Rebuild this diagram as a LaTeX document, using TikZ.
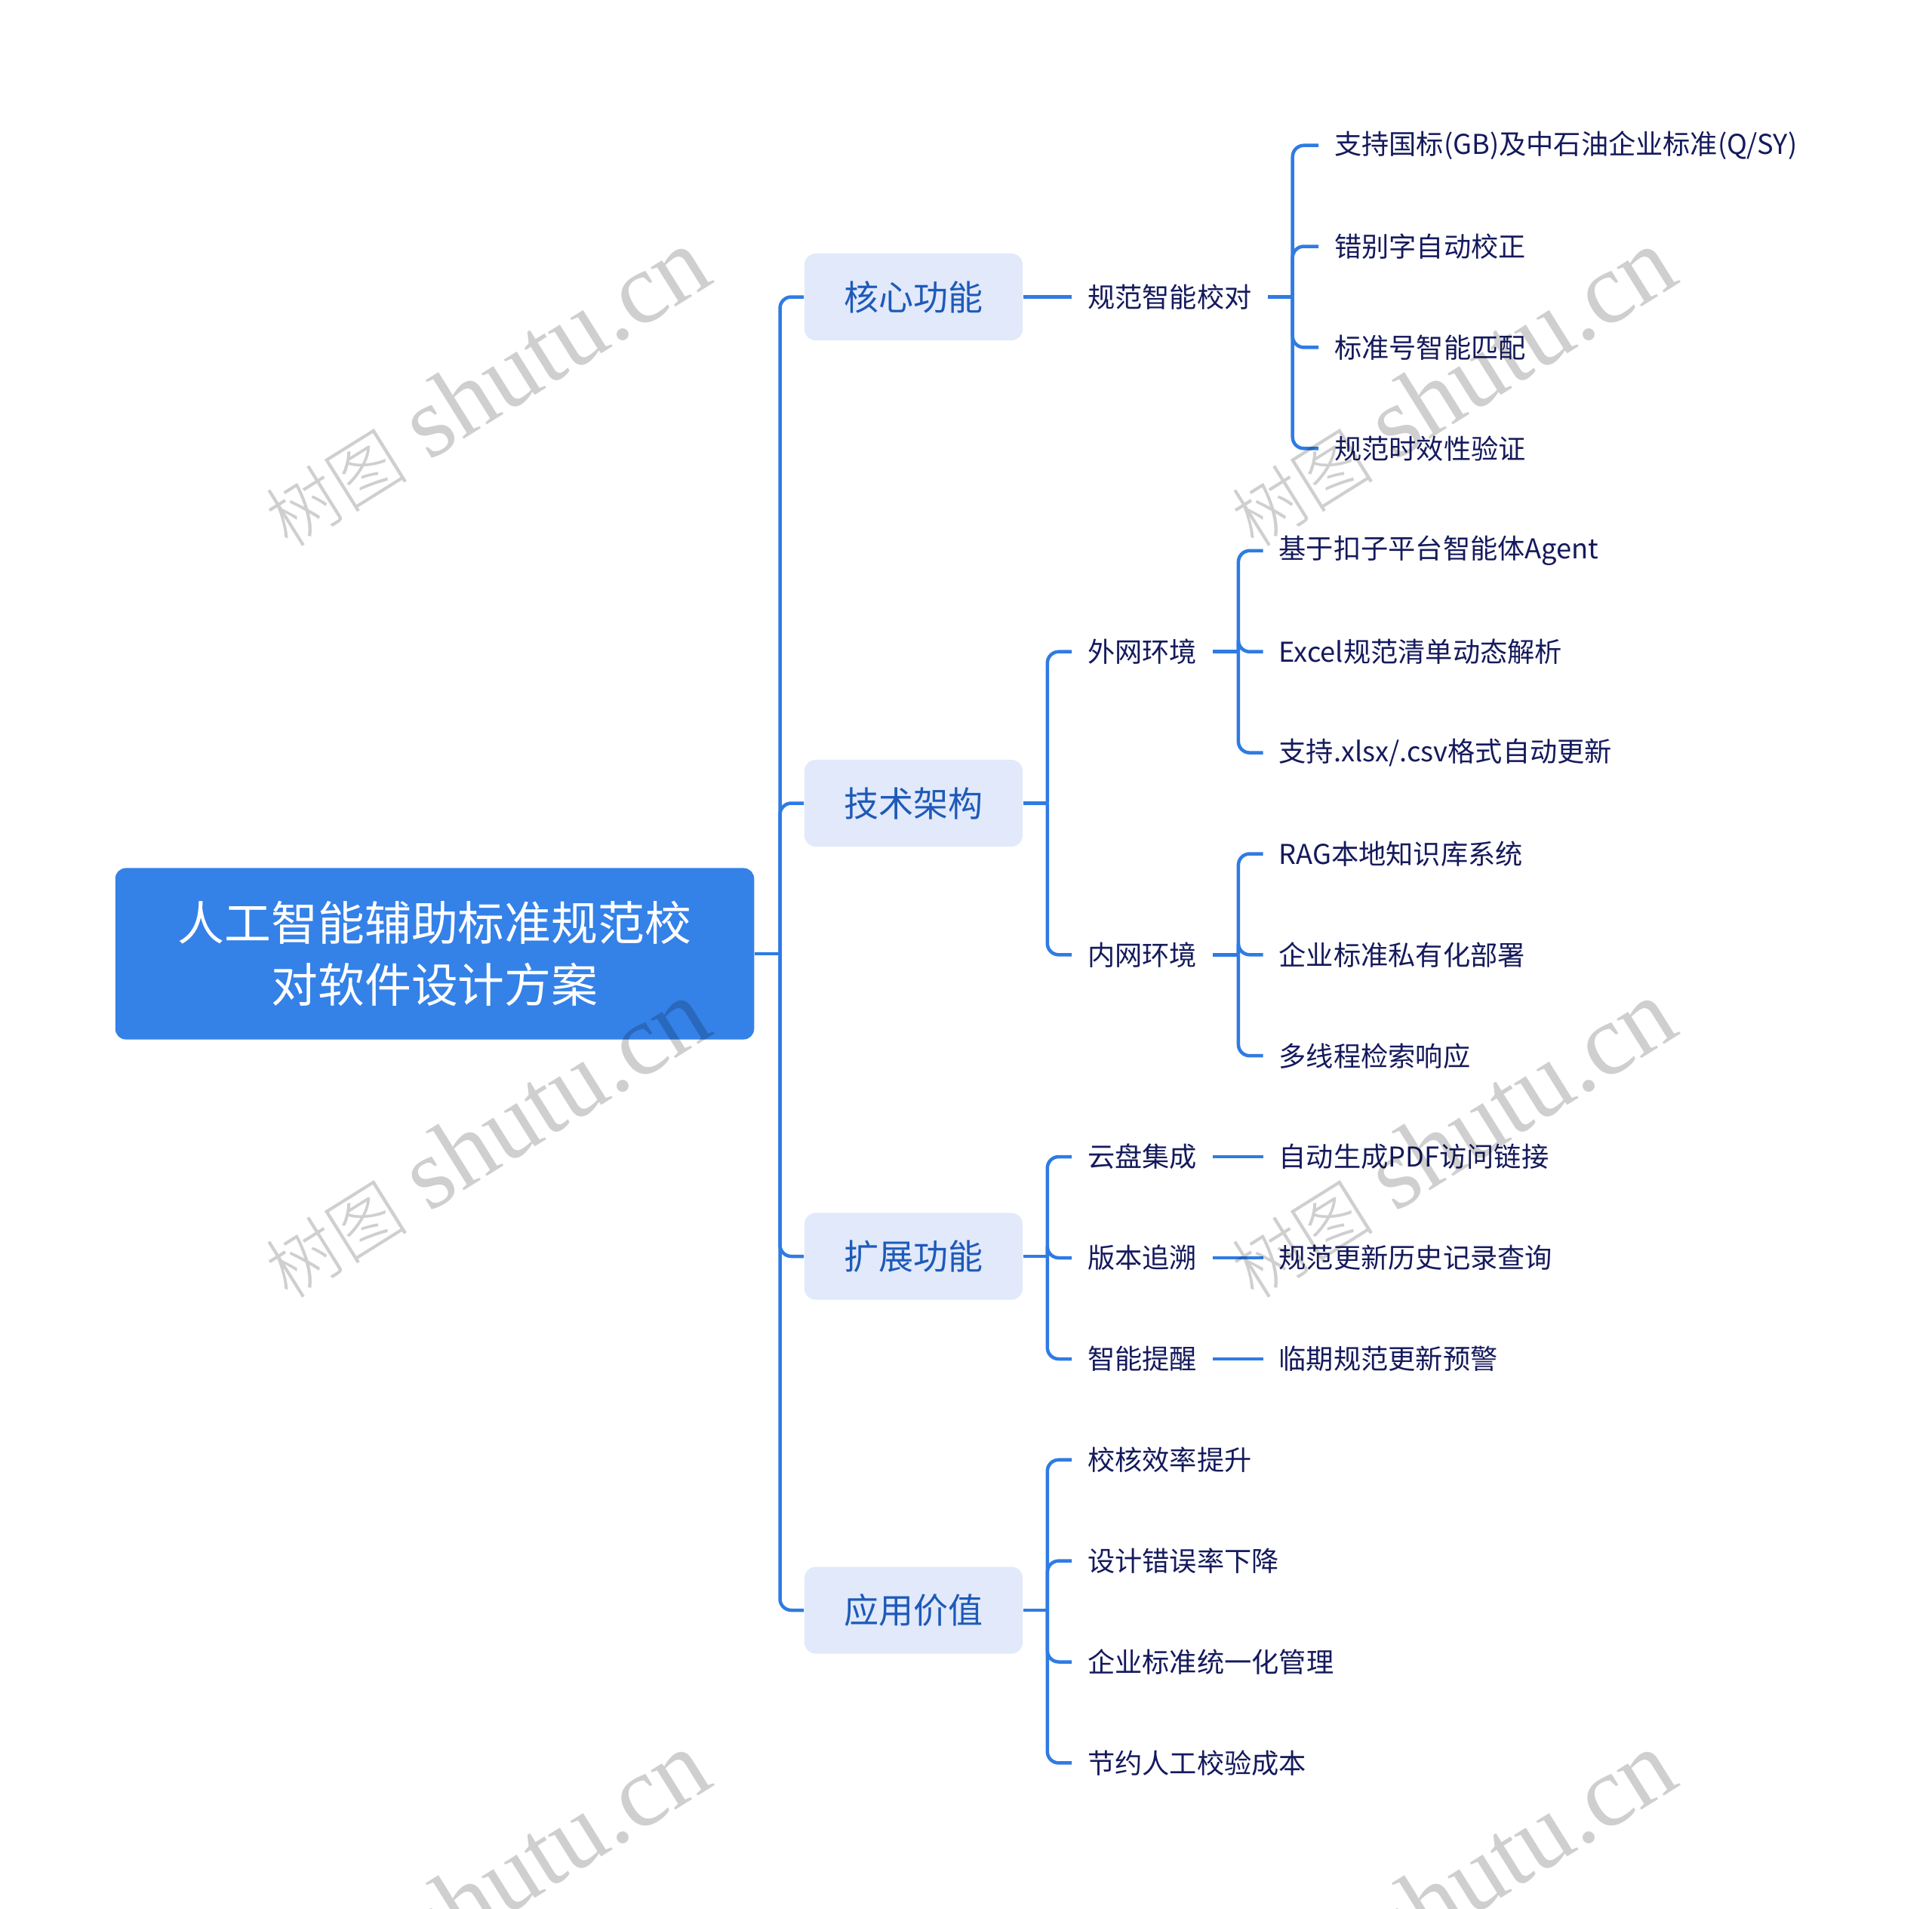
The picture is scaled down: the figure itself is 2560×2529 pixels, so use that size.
\documentclass[tikz,border=0pt]{standalone}
\usepackage{fontspec}
\setmainfont{Noto Sans CJK SC}
\newfontfamily\wmfont{Liberation Serif}
\newfontfamily\wmcjk{Noto Sans CJK SC Light}
\definecolor{rootblue}{HTML}{3481E8}
\definecolor{lineblue}{HTML}{2F7BE3}
\definecolor{boxfill}{HTML}{E1E9FB}
\definecolor{catblue}{HTML}{1E5AB8}
\definecolor{leaftext}{HTML}{151A5C}
\newcommand{\wmtext}{{\wmcjk\fontsize{27}{32}\selectfont 树图}\hspace{0.3cm}{\wmfont\fontsize{38}{44}\selectfont shutu.cn}}
\tikzset{
  rootbox/.style={fill=rootblue, rounded corners=0.14cm, minimum width=8.46cm, minimum height=2.27cm,
    text=white, font=\fontsize{17.6}{23.3}\selectfont, align=center, inner sep=0pt},
  catbox/.style={fill=boxfill, rounded corners=0.15cm, minimum width=2.89cm, minimum height=1.15cm,
    text=catblue, font=\fontsize{13.1}{16}\selectfont, inner sep=0pt},
  leaf/.style={anchor=west, text=leaftext, font=\fontsize{10.3}{13}\selectfont, inner xsep=0.205cm, inner ysep=0pt},
  conn/.style={draw=lineblue, line width=0.045cm, rounded corners=0.15cm},
  wm/.style={text=black, text opacity=0.19, rotate=32, inner sep=0pt}
}
\begin{document}
\begin{tikzpicture}[x=0.01cm,y=-0.01cm]
\useasboundingbox (0,0) rectangle (2560,2529);

% root
\node[rootbox] (root) at (576,1264) {人工智能辅助标准规范校\\对软件设计方案};
\coordinate (t) at (1033.5,1264);

% level 1
\node[catbox] (k1) at (1210.5,393.5) {核心功能};
\node[catbox] (k2) at (1210.5,1064.5) {技术架构};
\node[catbox] (k3) at (1210.5,1665) {扩展功能};
\node[catbox] (k4) at (1210.5,2134) {应用价值};

\draw[conn] (root.east) -- (t);
\draw[conn] (t) |- (k1.west);
\draw[conn] (t) |- (k2.west);
\draw[conn] (t) |- (k3.west);
\draw[conn] (t) |- (k4.west);

% core functions
\node[leaf] (n11) at (1420,393.5) {规范智能校对};
\draw[conn] (k1.east) -- (n11.west);
\coordinate (b11) at (1712.7,393.5);
\node[leaf] (c1) at (1747,192.7) {支持国标(GB)及中石油企业标准(Q/SY)};
\node[leaf] (c2) at (1747,326.5) {错别字自动校正};
\node[leaf] (c3) at (1747,460.4) {标准号智能匹配};
\node[leaf] (c4) at (1747,594.3) {规范时效性验证};
\draw[conn] (n11.east) -- (b11);
\draw[conn] (b11) |- (c1.west);
\draw[conn] (b11) |- (c2.west);
\draw[conn] (b11) |- (c3.west);
\draw[conn] (b11) |- (c4.west);

% architecture
\coordinate (b2) at (1387.8,1064.5);
\node[leaf] (n21) at (1420,863.7) {外网环境};
\node[leaf] (n22) at (1420,1265.3) {内网环境};
\draw[conn] (k2.east) -- (b2);
\draw[conn] (b2) |- (n21.west);
\draw[conn] (b2) |- (n22.west);

\coordinate (b21) at (1640.9,863.7);
\node[leaf] (e1) at (1673.5,729.8) {基于扣子平台智能体Agent};
\node[leaf] (e2) at (1673.5,863.7) {Excel规范清单动态解析};
\node[leaf] (e3) at (1673.5,997.6) {支持.xlsx/.csv格式自动更新};
\draw[conn] (n21.east) -- (b21);
\draw[conn] (b21) |- (e1.west);
\draw[conn] (b21) |- (e2.west);
\draw[conn] (b21) |- (e3.west);

\coordinate (b22) at (1640.9,1265.3);
\node[leaf] (i1) at (1673.5,1131.5) {RAG本地知识库系统};
\node[leaf] (i2) at (1673.5,1265.3) {企业标准私有化部署};
\node[leaf] (i3) at (1673.5,1399.2) {多线程检索响应};
\draw[conn] (n22.east) -- (b22);
\draw[conn] (b22) |- (i1.west);
\draw[conn] (b22) |- (i2.west);
\draw[conn] (b22) |- (i3.west);

% extensions
\coordinate (b3) at (1387.8,1665);
\node[leaf] (n31) at (1420,1533) {云盘集成};
\node[leaf] (n32) at (1420,1667) {版本追溯};
\node[leaf] (n33) at (1420,1801) {智能提醒};
\draw[conn] (k3.east) -- (b3);
\draw[conn] (b3) |- (n31.west);
\draw[conn] (b3) |- (n32.west);
\draw[conn] (b3) |- (n33.west);
\node[leaf] (m31) at (1673.5,1533) {自动生成PDF访问链接};
\node[leaf] (m32) at (1673.5,1667) {规范更新历史记录查询};
\node[leaf] (m33) at (1673.5,1801) {临期规范更新预警};
\draw[conn] (n31.east) -- (m31.west);
\draw[conn] (n32.east) -- (m32.west);
\draw[conn] (n33.east) -- (m33.west);

% value
\coordinate (b4) at (1387.8,2134);
\node[leaf] (v1) at (1420,1934.7) {校核效率提升};
\node[leaf] (v2) at (1420,2068.6) {设计错误率下降};
\node[leaf] (v3) at (1420,2202.5) {企业标准统一化管理};
\node[leaf] (v4) at (1420,2336.4) {节约人工校验成本};
\draw[conn] (k4.east) -- (b4);
\draw[conn] (b4) |- (v1.west);
\draw[conn] (b4) |- (v2.west);
\draw[conn] (b4) |- (v3.west);
\draw[conn] (b4) |- (v4.west);

% watermarks (drawn over, semi-transparent)
\node[wm] (w1) at (643,514) {\wmtext};
\node[wm] (w2) at (1923,514) {\wmtext};
\node[wm] (w3) at (643,1510) {\wmtext};
\node[wm] (w4) at (1923,1510) {\wmtext};
\node[wm] (w5) at (643,2506) {\wmtext};
\node[wm] (w6) at (1923,2506) {\wmtext};
\end{tikzpicture}
\end{document}
